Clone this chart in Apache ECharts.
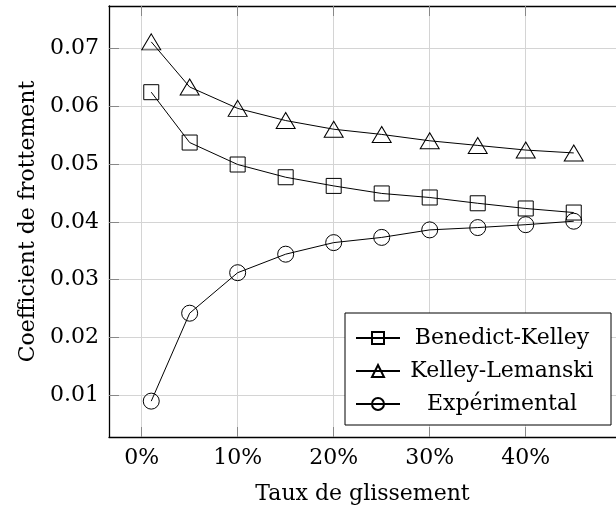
<!DOCTYPE html>
<html>
<head>
<meta charset="utf-8">
<script src="https://cdn.jsdelivr.net/npm/echarts@6/dist/echarts.min.js"></script>
<style>html,body{margin:0;padding:0;background:#fff}#c{width:616px;height:511px}</style>
</head>
<body>
<div id="c"></div>
<script>
const xValues = [1, 5, 10, 15, 20, 25, 30, 35, 40, 45];
const benedictKelley = [0.0624, 0.0537, 0.0499, 0.0477, 0.0462, 0.0449, 0.0442, 0.0432, 0.0423, 0.0416];
const kelleyLemanski = [0.0711, 0.0633, 0.0596, 0.0575, 0.0560, 0.0551, 0.0540, 0.0532, 0.0524, 0.0519];
const experimental = [0.0090, 0.0242, 0.0312, 0.0344, 0.0364, 0.0373, 0.0386, 0.0390, 0.0395, 0.0401];
const xTicks = [0, 10, 20, 30, 40];
const yTicks = [0.01, 0.02, 0.03, 0.04, 0.05, 0.06, 0.07];
const seriesNames = ['Benedict-Kelley', 'Kelley-Lemanski', 'Expérimental'];
const xTitle = 'Taux de glissement';
const yTitle = 'Coefficient de frottement';

const FONT = 'DejaVu Serif';
const FS = 22;
const zip = (xs, ys) => xs.map((x, i) => [x, ys[i]]);

function mkSeries(name, data, symbol, size) {
  return {
    name: name, type: 'line', data: zip(xValues, data),
    symbol: symbol, symbolSize: size,
    lineStyle: { color: '#000', width: 1 },
    itemStyle: { color: 'rgba(255,255,255,0)', borderColor: '#000', borderWidth: 1 },
    emphasis: { disabled: true }, animation: false, z: 3
  };
}

const chart = echarts.init(document.getElementById('c'), null, { renderer: 'canvas' });
chart.setOption({
  animation: false,
  backgroundColor: '#fff',
  textStyle: { fontFamily: FONT },
  grid: { left: 109, top: 6, right: -8, bottom: 74, containLabel: false },
  xAxis: [{
    type: 'value', position: 'bottom', min: -3.4, max: 49.4, interval: 10,
    name: xTitle, nameLocation: 'middle', nameGap: 46,
    nameTextStyle: { fontFamily: FONT, fontSize: FS, color: '#000' },
    axisLine: { show: true, onZero: false, lineStyle: { color: '#000', width: 1.3 } },
    axisTick: { show: true, inside: true, length: 10, customValues: xTicks, lineStyle: { color: '#888' } },
    axisLabel: { customValues: xTicks, margin: 10, fontFamily: FONT, fontSize: FS, color: '#000', formatter: v => v + '%' },
    splitLine: { show: true, lineStyle: { color: '#d4d4d4', width: 1 } }
  }, {
    type: 'value', position: 'top', min: -3.4, max: 49.4, interval: 10,
    axisLine: { show: true, onZero: false, lineStyle: { color: '#000', width: 1.3 } },
    axisTick: { show: true, inside: true, length: 10, customValues: xTicks, lineStyle: { color: '#888' } },
    axisLabel: { show: false }, splitLine: { show: false }
  }],
  yAxis: [{
    type: 'value', min: 0.0028, max: 0.0773, interval: 0.01,
    name: yTitle, nameLocation: 'middle', nameGap: 69,
    nameTextStyle: { fontFamily: FONT, fontSize: FS, color: '#000' },
    axisLine: { show: true, onZero: false, lineStyle: { color: '#000', width: 1.3 } },
    axisTick: { show: true, inside: true, length: 10, customValues: yTicks, lineStyle: { color: '#888' } },
    axisLabel: { customValues: yTicks, margin: 10, fontFamily: FONT, fontSize: FS, color: '#000', formatter: v => v.toFixed(2) },
    splitLine: { show: true, lineStyle: { color: '#d4d4d4', width: 1 } }
  }],
  legend: {
    data: seriesNames,
    orient: 'vertical', left: 345, top: 313,
    padding: [14, 12, 10, 10],
    itemGap: 11, itemWidth: 44, itemHeight: 15,
    backgroundColor: '#fff', borderColor: '#000', borderWidth: 1, borderRadius: 0,
    formatter: n => '{a|' + n + '}',
    textStyle: {
      fontFamily: FONT, fontSize: FS, color: '#000',
      rich: { a: { width: 194, align: 'center', lineHeight: 24, fontFamily: FONT, fontSize: FS, color: '#000' } }
    },
    selectedMode: false
  },
  series: [
    mkSeries(seriesNames[0], benedictKelley, 'rect', 15),
    mkSeries(seriesNames[1], kelleyLemanski, 'triangle', [19, 16]),
    mkSeries(seriesNames[2], experimental, 'circle', 16)
  ]
});
</script>
</body>
</html>
